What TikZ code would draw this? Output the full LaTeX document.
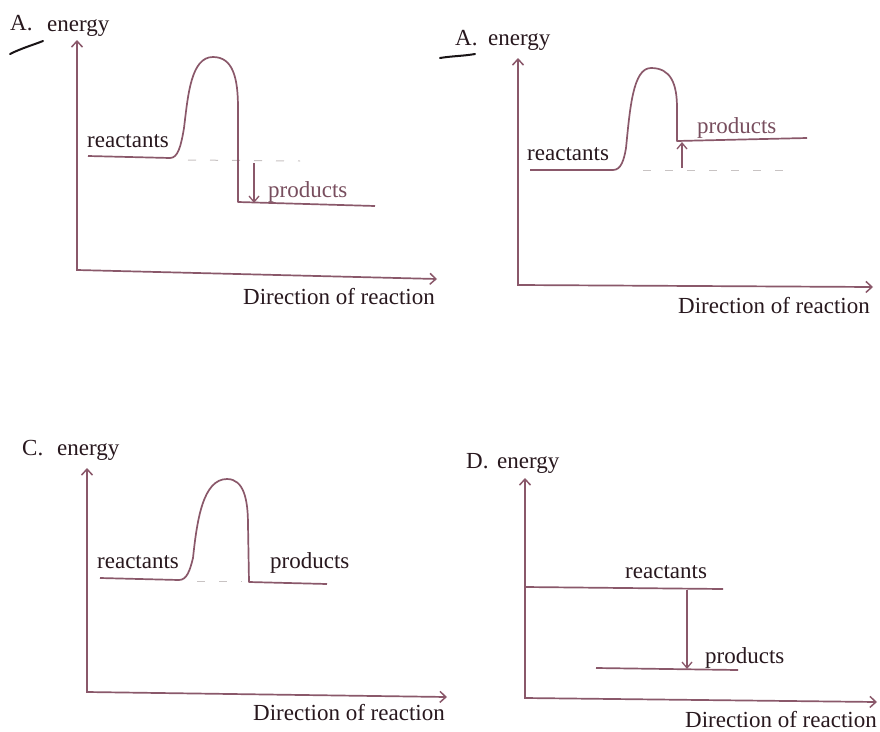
\documentclass[tikz,border=0pt]{standalone}
\usepackage{fontspec}
\setmainfont{Liberation Serif}
\usetikzlibrary{arrows.meta}
\definecolor{linecol}{RGB}{138,88,106}
\definecolor{txtcol}{RGB}{40,24,30}
\definecolor{prodcol}{RGB}{120,78,94}
\definecolor{dashcol}{RGB}{200,195,195}
\definecolor{inkcol}{RGB}{25,20,22}
\begin{document}
\begin{tikzpicture}[x=1pt,y=-1pt,
  lbl/.style={anchor=base west,inner sep=0pt,text=txtcol,font=\fontsize{23}{27}\selectfont},
  plbl/.style={lbl,text=prodcol},
  axis/.style={draw=linecol,line width=1.7pt,{Straight Barb[length=6pt,width=11pt,line width=1.5pt]}-{Straight Barb[length=6pt,width=11pt,line width=1.5pt]}},
  curve/.style={draw=linecol,line width=1.7pt,line join=round},
  levelarrow/.style={draw=linecol,line width=1.4pt,-{Straight Barb[length=6pt,width=10pt,line width=1.3pt]}},
  faint/.style={draw=dashcol,line width=1pt,dash pattern=on 8pt off 14pt},
  ink/.style={draw=inkcol,line width=2pt,line cap=round}]
\useasboundingbox[fill=white] (0,0) rectangle (880,731);

% ---------- Panel A (top left) ----------
\node[lbl] (tA) at (10,30) {A.};
\node[lbl] (eA) at (47,31) {energy};
\draw[ink] (10,54) .. controls (22,48) and (33,45) .. (43,41);
\coordinate (Ao) at (77,270);
\coordinate (Ay) at (77,40);
\coordinate (Ax) at (437,279);
\draw[axis] (Ay) -- (Ao) -- (Ax);
\node[lbl] (dA) at (243,304) {Direction of reaction};
\node[lbl] (rA) at (87,147) {reactants};
\node[plbl] (pA) at (268,197) {products};
\draw[faint] (188,160) -- (300,161);
\coordinate (Ar0) at (88,156);
\coordinate (Ap1) at (375,206);
\draw[curve] (Ar0) -- (170,158) .. controls (178,158) and (181,146) .. (184,128)
  .. controls (188,95) and (191,57) .. (213,57)
  .. controls (233,57) and (238,78) .. (238,108) -- (238,202) -- (Ap1);
\coordinate (Aa1) at (254,163);
\coordinate (Aa2) at (254,203);
\draw[levelarrow] (Aa1) -- (Aa2);

% ---------- Panel B (top right) ----------
\node[lbl] (tB) at (455,45) {A.};
\node[lbl] (eB) at (488,45) {energy};
\draw[ink] (440,58) .. controls (452,56) and (464,56) .. (475,54);
\coordinate (Bo) at (518,285);
\coordinate (By) at (518,58);
\coordinate (Bx) at (873,287);
\draw[axis] (By) -- (Bo) -- (Bx);
\node[lbl] (dB) at (678,313) {Direction of reaction};
\node[lbl] (rB) at (527,160) {reactants};
\node[plbl] (pB) at (697,133) {products};
\draw[faint] (643,170) -- (795,170);
\coordinate (Br0) at (530,170);
\coordinate (Bp1) at (807,138);
\draw[curve] (Br0) -- (613,170) .. controls (621,170) and (624,160) .. (626,148)
  .. controls (630,108) and (633,68) .. (651,68)
  .. controls (671,68) and (677,84) .. (677,108) -- (677,141) -- (Bp1);
\coordinate (Ba1) at (682,168);
\coordinate (Ba2) at (682,142);
\draw[levelarrow] (Ba1) -- (Ba2);

% ---------- Panel C (bottom left) ----------
\node[lbl] (tC) at (22,455) {C.};
\node[lbl] (eC) at (57,455) {energy};
\coordinate (Co) at (87,692);
\coordinate (Cy) at (87,468);
\coordinate (Cx) at (447,697);
\draw[axis] (Cy) -- (Co) -- (Cx);
\node[lbl] (dC) at (253,720) {Direction of reaction};
\node[lbl] (rC) at (97,568) {reactants};
\node[lbl] (pC) at (270,568) {products};
\draw[faint] (197,581) -- (242,581);
\coordinate (Cr0) at (100,578);
\coordinate (Cp1) at (327,584);
\draw[curve] (Cr0) -- (179,580) .. controls (187,580) and (190,570) .. (193,558)
  .. controls (197,520) and (203,479) .. (227,479)
  .. controls (244,479) and (248,500) .. (248,525) -- (249,582) -- (Cp1);

% ---------- Panel D (bottom right) ----------
\node[lbl] (tD) at (466,468) {D.};
\node[lbl] (eD) at (497,468) {energy};
\coordinate (Do) at (525,698);
\coordinate (Dy) at (525,478);
\coordinate (Dx) at (877,702);
\draw[axis] (Dy) -- (Do) -- (Dx);
\node[lbl] (dD) at (685,727) {Direction of reaction};
\node[lbl] (rD) at (625,578) {reactants};
\node[lbl] (pD) at (705,663) {products};
\coordinate (Dr0) at (525,587);
\coordinate (Dr1) at (723,589);
\draw[curve] (Dr0) -- (Dr1);
\coordinate (Dp0) at (596,668);
\coordinate (Dp1) at (738,670);
\draw[curve] (Dp0) -- (Dp1);
\coordinate (Da1) at (687,590);
\coordinate (Da2) at (687,669);
\draw[levelarrow] (Da1) -- (Da2);
\end{tikzpicture}
\end{document}
